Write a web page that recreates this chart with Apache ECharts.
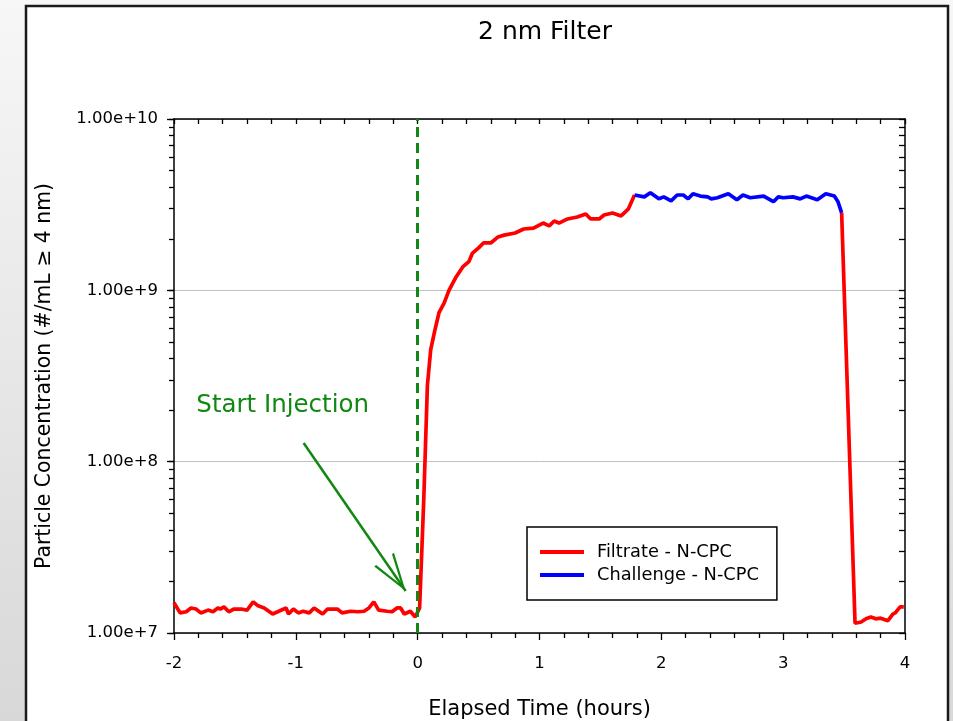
<!DOCTYPE html>
<html><head><meta charset="utf-8">
<script src="https://cdn.jsdelivr.net/npm/echarts@6/dist/echarts.min.js"></script>
<style>html,body{margin:0;padding:0;background:#fff;}#c{width:953px;height:721px;}</style>
</head><body><div id="c"></div>
<script>
const FONT = 'DejaVu Sans';
const titleText = '2 nm Filter';
const xAxisName = 'Elapsed Time (hours)';
const yAxisName = 'Particle Concentration (#/mL \u2265 4 nm)';
const seriesNames = ['Filtrate - N-CPC', 'Challenge - N-CPC'];
const annotationText = 'Start Injection';

// Filtrate (red) before and during the rise
const preTime = [-2.00,-1.95,-1.90,-1.86,-1.82,-1.78,-1.72,-1.68,-1.64,-1.62,
  -1.59,-1.55,-1.51,-1.45,-1.40,-1.35,-1.31,-1.26,-1.19,-1.14,
  -1.08,-1.06,-1.02,-0.98,-0.94,-0.89,-0.85,-0.78,-0.74,-0.66,
  -0.62,-0.55,-0.49,-0.44,-0.40,-0.36,-0.32,-0.25,-0.21,-0.17,
  -0.14,-0.11,-0.06,-0.02,0.016,
  0.05,0.08,0.107,0.14,0.175,0.216,0.257,0.31,0.37,0.42,0.45,0.50,0.54,0.60,0.66,0.71,
  0.80,0.87,0.95,1.03,1.08,1.12,1.16,1.23,1.31,1.38,1.42,1.49,1.53,1.60,1.67,1.73,1.78];
const preConc = [1.50e7,1.31e7,1.33e7,1.40e7,1.38e7,1.31e7,1.36e7,1.33e7,1.40e7,1.38e7,
  1.42e7,1.33e7,1.38e7,1.38e7,1.36e7,1.52e7,1.44e7,1.40e7,1.29e7,1.34e7,
  1.40e7,1.29e7,1.38e7,1.31e7,1.34e7,1.31e7,1.40e7,1.29e7,1.38e7,1.38e7,
  1.31e7,1.34e7,1.33e7,1.34e7,1.40e7,1.52e7,1.36e7,1.34e7,1.33e7,1.40e7,
  1.40e7,1.29e7,1.34e7,1.24e7,1.40e7,
  6.0e7,2.8e8,4.5e8,5.8e8,7.4e8,8.4e8,1.00e9,1.18e9,1.37e9,1.47e9,1.65e9,1.77e9,1.89e9,1.89e9,2.05e9,2.10e9,
  2.16e9,2.28e9,2.31e9,2.47e9,2.38e9,2.54e9,2.47e9,2.61e9,2.68e9,2.79e9,2.61e9,2.61e9,2.75e9,2.83e9,2.72e9,2.99e9,3.60e9];

// Challenge (blue)
const chalTime = [1.78,1.86,1.91,1.98,2.02,2.08,2.13,2.18,2.22,2.26,2.32,2.38,2.41,2.46,2.55,
  2.62,2.67,2.73,2.84,2.92,2.96,3.00,3.08,3.14,3.19,3.28,3.35,3.42,3.45,3.48];
const chalConc = [3.60e9,3.51e9,3.71e9,3.42e9,3.51e9,3.33e9,3.60e9,3.60e9,3.42e9,3.66e9,3.55e9,3.51e9,3.42e9,3.47e9,3.66e9,
  3.38e9,3.60e9,3.47e9,3.55e9,3.29e9,3.51e9,3.47e9,3.51e9,3.42e9,3.55e9,3.38e9,3.66e9,3.55e9,3.29e9,2.83e9];

// Filtrate (red) after the challenge
const postTime = [3.48,3.59,3.64,3.68,3.72,3.76,3.80,3.86,3.90,3.92,3.96,3.99];
const postConc = [2.83e9,1.14e7,1.16e7,1.21e7,1.24e7,1.21e7,1.22e7,1.18e7,1.29e7,1.31e7,1.42e7,1.42e7];

// Injection marker and annotation (data coordinates)
const injectionTime = 0;
const arrowFrom = [-0.936, 1.285e8];
const arrowTo = [-0.0985, 1.76e7];
const labelAt = [-1.108, 2.11e8];

const xMin = -2, xMax = 4;
const yMin = 1e7, yMax = 1e10;

const logTicks = [];
[1e7, 1e8, 1e9].forEach(d => { for (let k = 1; k < 10; k++) logTicks.push(d * k); });
logTicks.push(1e10);

const pairs = (t, v) => t.map((x, i) => [x, v[i]]);
const black = '#000';
const axisLine = { show: true, onZero: false, lineStyle: { color: black, width: 1.5 } };
const tickStyle = { color: black, width: 1.3 };
const green = '#118811';

const chart = echarts.init(document.getElementById('c'));
chart.setOption({
  animation: false,
  backgroundColor: { type: 'linear', x: 0, y: 0, x2: 0, y2: 1,
    colorStops: [{ offset: 0, color: '#f7f7f7' }, { offset: 1, color: '#d8d8d8' }] },
  graphic: { elements: [{ type: 'rect', z: -5, silent: true,
    shape: { x: 26, y: 6, width: 922, height: 740 },
    style: { fill: '#fff', stroke: '#1a1a1a', lineWidth: 2.5 } }] },
  title: { text: titleText, left: 540, textAlign: 'center', top: 15,
    textStyle: { fontFamily: FONT, fontSize: 25, fontWeight: 'normal', color: black } },
  legend: {
    data: seriesNames, orient: 'vertical', left: 527, top: 527,
    icon: 'rect', itemWidth: 44, itemHeight: 4, itemGap: 5,
    padding: [16, 18, 16, 13], borderColor: black, borderWidth: 1.5, backgroundColor: '#fff',
    textStyle: { fontFamily: FONT, fontSize: 17.8, color: black, padding: [0, 0, 0, 8] }
  },
  grid: { left: 174, right: 48, top: 119, bottom: 88, containLabel: false, outerBoundsMode: 'none' },
  xAxis: [
    { type: 'value', min: xMin, max: xMax, interval: 1, position: 'bottom',
      axisLine: axisLine,
      axisTick: { show: true, inside: false, length: 7, lineStyle: tickStyle },
      minorTick: { show: true, splitNumber: 5, length: 5, lineStyle: tickStyle },
      axisLabel: { margin: 22, fontFamily: FONT, fontSize: 16.5, color: black },
      splitLine: { show: false },
      name: xAxisName, nameLocation: 'middle', nameGap: 66,
      nameTextStyle: { fontFamily: FONT, fontSize: 21, color: black } },
    { type: 'value', min: xMin, max: xMax, interval: 1, position: 'top',
      axisLine: axisLine,
      axisTick: { show: true, inside: true, length: 5, lineStyle: tickStyle },
      minorTick: { show: true, splitNumber: 5, length: 5, lineStyle: tickStyle },
      axisLabel: { show: false }, splitLine: { show: false } }
  ],
  yAxis: [
    { type: 'log', logBase: 10, min: yMin, max: yMax, position: 'left',
      axisLine: axisLine,
      axisTick: { show: true, inside: false, length: 7, lineStyle: tickStyle },
      axisLabel: { margin: 16, fontFamily: FONT, fontSize: 16.5, color: black,
        formatter: v => Number(v).toExponential(2) },
      splitLine: { show: true, lineStyle: { color: '#c0c0c0', width: 1 } },
      name: yAxisName, nameLocation: 'middle', nameGap: 119,
      nameTextStyle: { fontFamily: FONT, fontSize: 20.4, color: black } },
    { type: 'log', logBase: 10, min: yMin, max: yMax, position: 'right',
      axisLine: axisLine,
      axisTick: { show: true, inside: true, length: 6, customValues: logTicks, lineStyle: tickStyle },
      axisLabel: { show: false }, splitLine: { show: false } },
    { type: 'log', logBase: 10, min: yMin, max: yMax, position: 'left', offset: 0,
      axisLine: { show: false, onZero: false },
      axisTick: { show: true, inside: false, length: 5, customValues: logTicks, lineStyle: tickStyle },
      axisLabel: { show: false }, splitLine: { show: false } }
  ],
  series: [
    { type: 'line', name: seriesNames[0], data: pairs(preTime, preConc),
      symbol: 'none', smooth: false, z: 3,
      lineStyle: { color: '#ff0000', width: 3.7 }, itemStyle: { color: '#ff0000' },
      emphasis: { disabled: true },
      markLine: {
        silent: true, symbol: ['none', 'none'], label: { show: false }, animation: false,
        emphasis: { disabled: true },
        data: [
          { xAxis: injectionTime, lineStyle: { color: green, type: [10, 6], width: 3 } },
          [ { coord: arrowFrom, symbol: 'none' },
            { coord: arrowTo, symbol: 'path://M0,0 L7,14 L5.6,14 L0,2.6 L-5.6,14 L-7,14 Z',
              symbolSize: [24, 38], symbolOffset: [0, 19],
              lineStyle: { color: green, type: 'solid', width: 2.5 } } ]
        ]
      },
      markPoint: {
        silent: true, animation: false,
        data: [{ coord: labelAt, symbol: 'rect', symbolSize: 1,
          itemStyle: { color: 'rgba(0,0,0,0)' },
          label: { show: true, position: 'inside', formatter: annotationText,
            fontFamily: FONT, fontSize: 24.5, color: green } }]
      }
    },
    { type: 'line', name: seriesNames[1], data: pairs(chalTime, chalConc),
      symbol: 'none', smooth: false, z: 4,
      lineStyle: { color: '#0000ff', width: 3.7 }, itemStyle: { color: '#0000ff' },
      emphasis: { disabled: true } },
    { type: 'line', name: seriesNames[0], data: pairs(postTime, postConc),
      symbol: 'none', smooth: false, z: 3,
      lineStyle: { color: '#ff0000', width: 3.7 }, itemStyle: { color: '#ff0000' },
      emphasis: { disabled: true } }
  ]
});
</script>
</body></html>
